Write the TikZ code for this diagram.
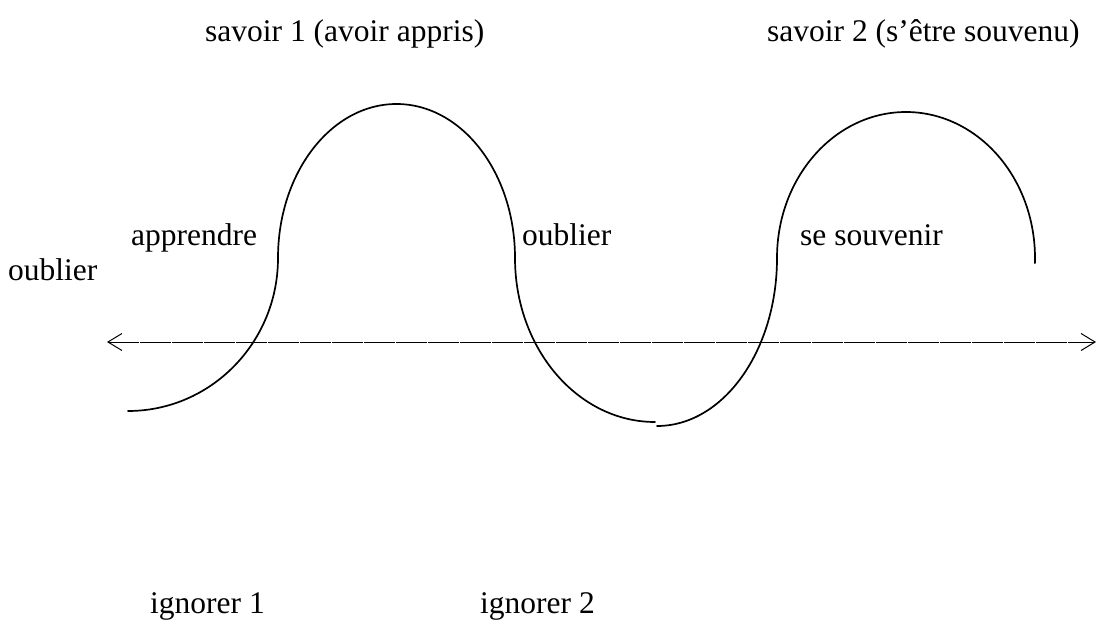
\documentclass[tikz,border=0pt]{standalone}
\usepackage{fontspec}
\setmainfont{Liberation Serif}
\usetikzlibrary{arrows.meta}
\tikzset{
  lbl/.style={anchor=base west, inner sep=0pt, font=\fontsize{31.5}{36}\selectfont},
  wave/.style={line width=1.7pt, line cap=round},
  axis/.style={line width=1pt, dash pattern=on 31pt off 1pt,
    {Straight Barb[length=14pt,width=17pt,line width=1pt]}-{Straight Barb[length=14pt,width=17pt,line width=1pt]}}
}
\begin{document}
\begin{tikzpicture}[x=1pt,y=1pt]
\useasboundingbox (0,0) rectangle (1097,633);
% labels
\node[lbl] (s1) at (205,591) {savoir 1 (avoir appris)};
\node[lbl] (s2) at (767,591) {savoir 2 (s’être souvenu)};
\node[lbl] (app) at (131,388) {apprendre};
\node[lbl] (oub0) at (8,353) {oublier};
\node[lbl] (oub1) at (522,388) {oublier};
\node[lbl] (sesou) at (800,388) {se souvenir};
\node[lbl] (ig1) at (150,20) {ignorer 1};
\node[lbl] (ig2) at (480,20) {ignorer 2};
% axis
\coordinate (axL) at (107,291);
\coordinate (axR) at (1096,291);
\draw[axis] (axL) -- (axR);
% wave
\coordinate (w0) at (128,222);
\coordinate (w4) at (657,207);
\draw[wave] (w0) arc[start angle=270, end angle=360, x radius=150, y radius=153]
  arc[start angle=180, end angle=0, x radius=118.5, y radius=154]
  arc[start angle=180, end angle=270, x radius=140, y radius=164];
\draw[wave] (w4) arc[start angle=270, end angle=360, x radius=120, y radius=168]
  arc[start angle=180, end angle=-2, x radius=129, y radius=146];
\end{tikzpicture}
\end{document}
